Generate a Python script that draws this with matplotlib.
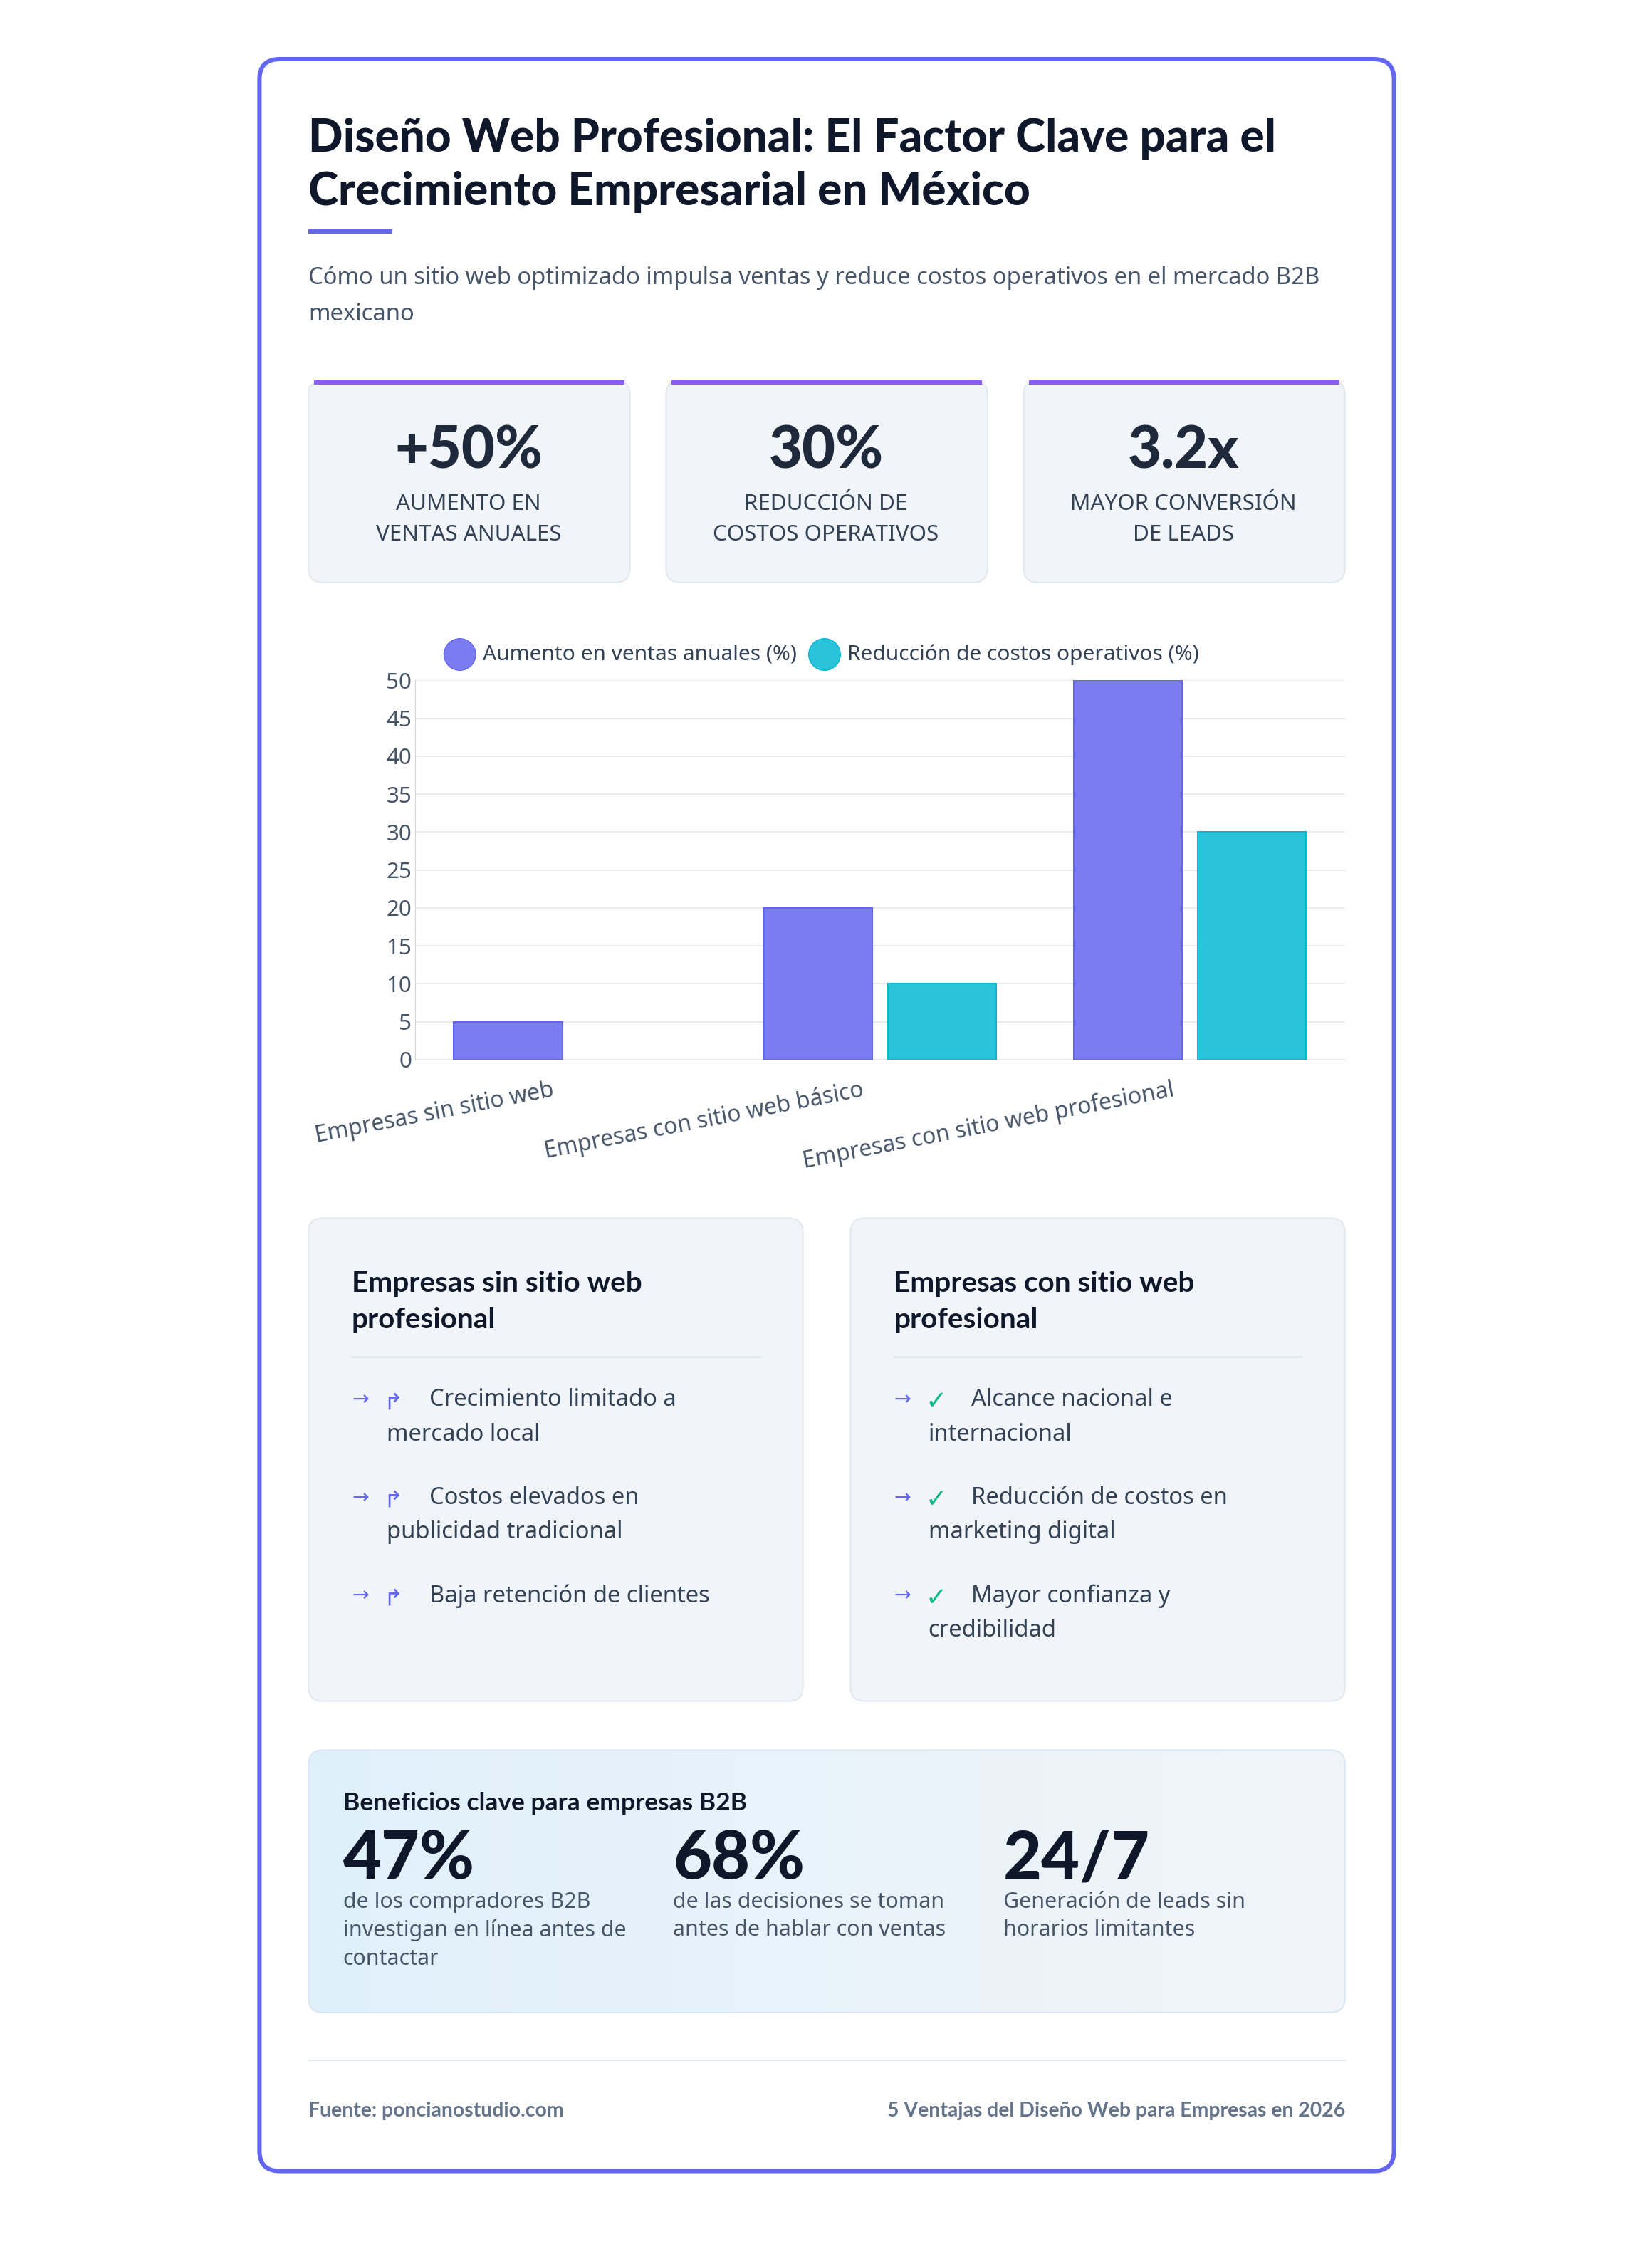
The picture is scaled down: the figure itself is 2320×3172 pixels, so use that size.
import matplotlib.pyplot as plt
import numpy as np
from matplotlib.patches import FancyBboxPatch, Rectangle
from matplotlib.colors import LinearSegmentedColormap

plt.rcParams['font.family'] = ['Noto Sans', 'DejaVu Sans']
BOLD = ['Lato', 'DejaVu Sans']

categories = ["Empresas sin sitio web", "Empresas con sitio web básico", "Empresas con sitio web profesional"]
ventas = [5, 20, 50]
costos = [0, 10, 30]
stats = [("+50%", "AUMENTO EN\nVENTAS ANUALES"), ("30%", "REDUCCIÓN DE\nCOSTOS OPERATIVOS"), ("3.2x", "MAYOR CONVERSIÓN\nDE LEADS")]
sin_items = ["Crecimiento limitado a\nmercado local", "Costos elevados en\npublicidad tradicional", "Baja retención de clientes"]
con_items = ["Alcance nacional e\ninternacional", "Reducción de costos en\nmarketing digital", "Mayor confianza y\ncredibilidad"]
beneficios = [("47%", "de los compradores B2B\ninvestigan en línea antes de\ncontactar"),
              ("68%", "de las decisiones se toman\nantes de hablar con ventas"),
              ("24/7", "Generación de leads sin\nhorarios limitantes")]

W, H = 1146, 1567
S = 2320 / W
def pt(px): return px * S * 72 / 100

fig = plt.figure(figsize=(23.2, 31.72), dpi=100)
fig.patch.set_facecolor('white')
ov = fig.add_axes([0, 0, 1, 1])
ov.set_xlim(0, W); ov.set_ylim(H, 0); ov.axis('off')

def box(x, y, w, h, fc, ec, lw=1, r=10, z=1):
    ov.add_patch(FancyBboxPatch((x, y), w, h, boxstyle=f"round,pad=0,rounding_size={r}",
                                fc=fc, ec=ec, lw=lw, zorder=z))

box(180, 41, 787, 1465, 'white', '#6366f1', lw=pt(3), r=14)
dark = '#0f172a'
ov.text(214, 96, "Diseño Web Profesional: El Factor Clave para el", fontsize=pt(31.5), weight='black', family=BOLD, color=dark, va='center')
ov.text(214, 133, "Crecimiento Empresarial en México", fontsize=pt(31.5), weight='black', family=BOLD, color=dark, va='center')
ov.add_patch(Rectangle((214, 159), 58, 3, fc='#6366f1', ec='none'))
ov.text(214, 193, "Cómo un sitio web optimizado impulsa ventas y reduce costos operativos en el mercado B2B", fontsize=pt(16.2), color='#475569', va='center')
ov.text(214, 218, "mexicano", fontsize=pt(16.2), color='#475569', va='center')

for i, (v, lab) in enumerate(stats):
    x = 214 + i * 248
    box(x, 264, 223, 140, '#f1f5f9', '#e2e8f0', lw=1.5)
    ov.add_patch(Rectangle((x + 4, 264), 215, 3, fc='#8b5cf6', ec='none', zorder=2))
    ov.text(x + 111, 313, v, fontsize=pt(40), weight='black', family=BOLD, color='#1e293b', ha='center', va='center')
    for k, ln in enumerate(lab.split("\n")):
        ov.text(x + 111, 350 + k * 21, ln, fontsize=pt(15.5), color='#334155', ha='center', va='center', weight='medium')

# chart
ax = fig.add_axes([288 / W, 1 - 735 / H, (933 - 288) / W, (735 - 472) / H])
x = np.arange(3)
bw = 0.35
ax.bar(x - 0.2, ventas, bw, color='#7b7cf0', edgecolor='#6366f1', lw=1.5, zorder=3)
cx = [xi for xi, c in zip(x, costos) if c > 0]
ax.bar(np.array(cx) + 0.2, [c for c in costos if c > 0], bw, color='#2ac3da', edgecolor='#06b6d4', lw=1.5, zorder=3)
ax.set_xlim(-0.5, 2.5); ax.set_ylim(0, 50)
ax.set_yticks(range(0, 51, 5))
ax.grid(axis='y', color='#e5e7eb', lw=1.2, zorder=0)
ax.set_xticks([])
for s in ['top', 'right']: ax.spines[s].set_visible(False)
for s in ['left', 'bottom']: ax.spines[s].set_color('#d1d5db')
ax.tick_params(axis='y', labelsize=pt(15.5), colors='#475569', length=0)
for i, c in enumerate(categories):
    ax.text(i - 0.06, -2.5, c, rotation=11, ha='right', va='top', fontsize=pt(15.8), color='#475569', rotation_mode='anchor')
ov.add_patch(plt.Circle((319, 454), 11, fc='#7b7cf0', ec='#6366f1'))
ov.text(335, 454, "Aumento en ventas anuales (%)", fontsize=pt(14.8), color='#334155', va='center')
ov.add_patch(plt.Circle((572, 454), 11, fc='#2ac3da', ec='#06b6d4'))
ov.text(588, 454, "Reducción de costos operativos (%)", fontsize=pt(14.8), color='#334155', va='center')

# comparison cards
for j, (title, items, good) in enumerate([("Empresas sin sitio web\nprofesional", sin_items, False),
                                          ("Empresas con sitio web\nprofesional", con_items, True)]):
    x0 = 214 + j * 376
    box(x0, 845, 343, 335, '#f1f5f9', '#e2e8f0', lw=1.5)
    ov.text(x0 + 30, 903, title, fontsize=pt(20), weight='bold', family=BOLD, color=dark, va='center', linespacing=1.45)
    ov.plot([x0 + 30, x0 + 313], [941, 941], color='#e2e8f0', lw=2)
    for k, it in enumerate(items):
        y = 971 + k * 68
        ov.text(x0 + 30, y, "→", fontsize=pt(14), color='#6366f1', va='center')
        if good:
            ov.text(x0 + 52, y + 2, "✓", fontsize=pt(18), color='#10b981', weight='bold', va='center')
        else:
            ov.text(x0 + 52, y + 2, "↱", fontsize=pt(16), color='#6366f1', va='center')
        lines = it.split("\n")
        ov.text(x0 + 84, y, lines[0], fontsize=pt(16.2), color='#334155', va='center')
        if len(lines) > 1:
            ov.text(x0 + 54, y + 24, lines[1], fontsize=pt(16.2), color='#334155', va='center')

# benefits
grad = np.linspace(0, 1, 256).reshape(1, -1)
bx = FancyBboxPatch((214, 1214), 719, 182, boxstyle="round,pad=0,rounding_size=10", fc='none', ec='#dbe7f3', lw=1.5, zorder=3)
ov.add_patch(bx)
cm = LinearSegmentedColormap.from_list('g', ['#e0f0fb', '#f1f5f9'])
im = ov.imshow(grad, extent=(214, 933, 1396, 1214), cmap=cm, aspect='auto', zorder=2)
im.set_clip_path(bx)
ov.set_xlim(0, W); ov.set_ylim(H, 0)
ov.text(238, 1251, "Beneficios clave para empresas B2B", fontsize=pt(17.5), weight='bold', family=BOLD, color=dark, va='center', zorder=4)
for i, (v, d) in enumerate(beneficios):
    x0 = 238 + i * 229
    ov.text(x0, 1290, v, fontsize=pt(46), weight='black', family=BOLD, color=dark, va='center', zorder=4)
    ov.text(x0, 1312, d, fontsize=pt(15), color='#475569', va='top', linespacing=1.4, zorder=4)

ov.plot([214, 933], [1429, 1429], color='#e2e8f0', lw=1.5)
ov.text(214, 1464, "Fuente: poncianostudio.com", fontsize=pt(14), weight='bold', family=BOLD, color='#64748b', va='center')
ov.text(933, 1464, "5 Ventajas del Diseño Web para Empresas en 2026", fontsize=pt(14), weight='bold', family=BOLD, color='#64748b', va='center', ha='right')

fig.savefig("out.png", dpi=100)
